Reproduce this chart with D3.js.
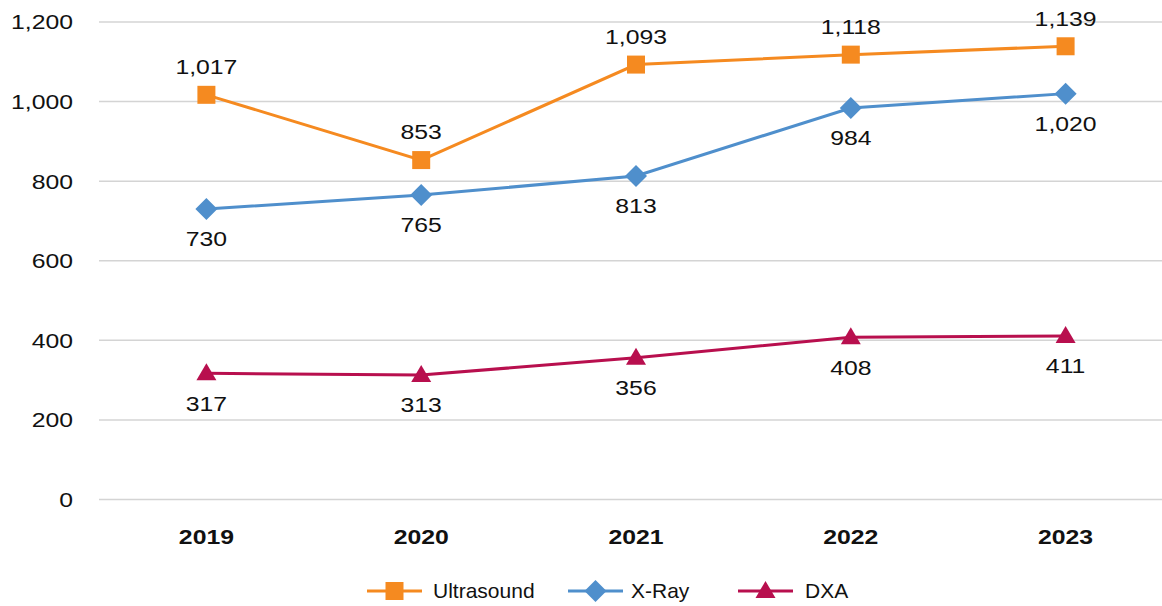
<!DOCTYPE html>
<html>
  <head>
    <meta charset="utf-8">
    <title>Imaging volumes</title>
    <script src="https://d3js.org/d3.v7.min.js"></script>
    <style>
      body { margin: 0; background: #fff; font-family: "Liberation Sans", Arial, sans-serif; }
      .grid line { stroke: #d4d4d4; stroke-width: 1.5; }
      .yLabel, .dataLabel, .legendText { font-size: 21px; fill: #111; }
      .xLabel { font-size: 21px; font-weight: bold; fill: #111; }
    </style>
  </head>
  <body>
    <svg id="chart" width="1162" height="606"></svg>
    <script>
      // data
      var years = ["2019", "2020", "2021", "2022", "2023"];
      var ultrasound = [1017, 853, 1093, 1118, 1139];
      var xray = [730, 765, 813, 984, 1020];
      var dxa = [317, 313, 356, 408, 411];
      var yTicks = [0, 200, 400, 600, 800, 1000, 1200];

      var series = [
        { name: "Ultrasound", values: ultrasound, colour: "#F58A20", symbol: "square", labelPos: "above" },
        { name: "X-Ray", values: xray, colour: "#4F8FCC", symbol: "diamond", labelPos: "below" },
        { name: "DXA", values: dxa, colour: "#B80F4E", symbol: "triangle", labelPos: "below" }
      ];

      var svg = d3.select("#chart");
      var x = d3.scaleBand().domain(years).range([99, 1173]);
      var y = d3.scaleLinear().domain([0, 1200]).range([499.5, 22]);
      var fmt = d3.format(",");
      var stretch = 1.18; // the original's digits are wider than Liberation's
      function cx(d) { return x(d) + x.bandwidth() / 2; }
      function place(px, py) { return "translate(" + px + "," + py + ") scale(" + stretch + ",1)"; }

      // gridlines + y labels
      var grid = svg.append("g").classed("grid", true);
      grid.selectAll("line")
          .data(yTicks)
        .enter().append("line")
          .attr("x1", 99)
          .attr("x2", 1162)
          .attr("y1", function(d) { return y(d); })
          .attr("y2", function(d) { return y(d); });
      svg.selectAll(".yLabel")
          .data(yTicks)
        .enter().append("text")
          .classed("yLabel", true)
          .attr("transform", function(d) { return place(73, y(d)); })
          .attr("dy", "0.35em")
          .attr("text-anchor", "end")
          .text(function(d) { return fmt(d); });

      // x labels
      svg.selectAll(".xLabel")
          .data(years)
        .enter().append("text")
          .classed("xLabel", true)
          .attr("transform", function(d) { return place(cx(d), 537); })
          .attr("dy", "0.35em")
          .attr("text-anchor", "middle")
          .text(function(d) { return d; });

      function symbolPath(type) {
        if (type == "square") return "M-9,-9H9V9H-9Z";
        if (type == "diamond") return "M0,-11L11,0L0,11L-11,0Z";
        return "M0,-10L10,7H-10Z";
      }

      var line = d3.line()
        .x(function(d, i) { return cx(years[i]); })
        .y(function(d) { return y(d); });

      series.forEach(function(s) {
        var g = svg.append("g");
        g.append("path")
          .attr("d", line(s.values))
          .attr("fill", "none")
          .attr("stroke", s.colour)
          .attr("stroke-width", 3);
        g.selectAll(".marker")
            .data(s.values)
          .enter().append("path")
            .attr("transform", function(d, i) { return "translate(" + cx(years[i]) + "," + y(d) + ")"; })
            .attr("d", symbolPath(s.symbol))
            .attr("fill", s.colour);
        g.selectAll(".dataLabel")
            .data(s.values)
          .enter().append("text")
            .classed("dataLabel", true)
            .attr("transform", function(d, i) { return place(cx(years[i]), y(d) + (s.labelPos == "above" ? -28 : 30)); })
            .attr("dy", "0.35em")
            .attr("text-anchor", "middle")
            .text(function(d) { return fmt(d); });
      });

      // legend
      var legendX = [367, 568, 738];
      series.forEach(function(s, i) {
        var lg = svg.append("g")
          .attr("transform", "translate(" + legendX[i] + ",591)");
        lg.append("line")
          .attr("x1", 0).attr("x2", 55)
          .attr("stroke", s.colour)
          .attr("stroke-width", 3);
        lg.append("path")
          .attr("transform", "translate(27.5,0)")
          .attr("d", symbolPath(s.symbol))
          .attr("fill", s.colour);
        lg.append("text")
          .classed("legendText", true)
          .attr("x", i == 0 ? 66 : (i == 1 ? 63 : 67))
          .attr("dy", "0.35em")
          .text(s.name);
      });
    </script>
  </body>
</html>
